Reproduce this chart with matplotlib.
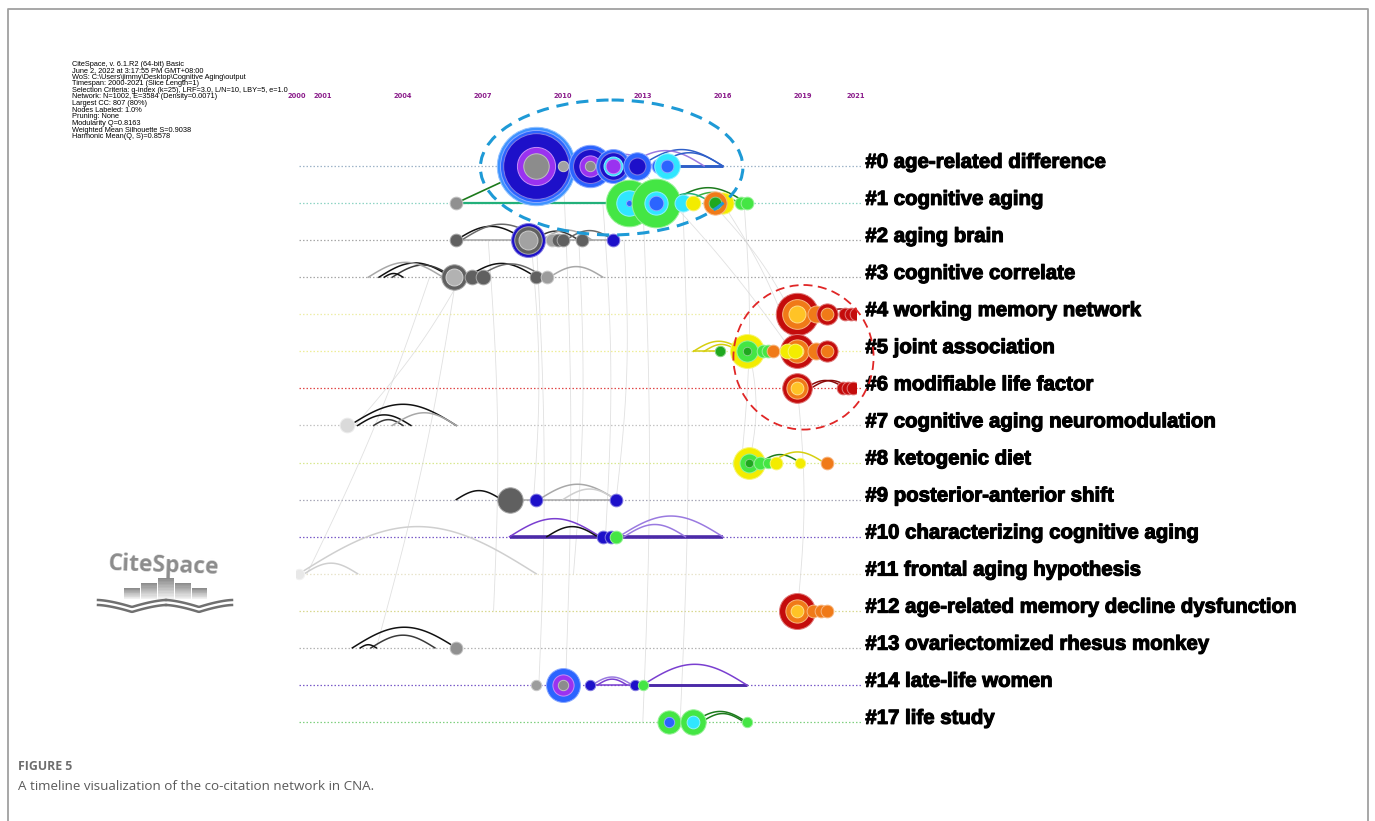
import numpy as np
import matplotlib
matplotlib.use("Agg")
import matplotlib.pyplot as plt
from matplotlib.patches import Ellipse
from matplotlib import patheffects as pe
from matplotlib.colors import to_rgb

# ---------------- data ----------------
cluster_labels = [
    "#0 age-related difference",
    "#1 cognitive aging",
    "#2 aging brain",
    "#3 cognitive correlate",
    "#4 working memory network",
    "#5 joint association",
    "#6 modifiable life factor",
    "#7 cognitive aging neuromodulation",
    "#8 ketogenic diet",
    "#9 posterior-anterior shift",
    "#10 characterizing cognitive aging",
    "#11 frontal aging hypothesis",
    "#12 age-related memory decline dysfunction",
    "#13 ovariectomized rhesus monkey",
    "#14 late-life women",
    "#17 life study",
]
year_ticks = [2000, 2001, 2004, 2007, 2010, 2013, 2016, 2019, 2021]
run_info = [
    "CiteSpace, v. 6.1.R2 (64-bit) Basic",
    "June 2, 2022 at 3:17:55 PM GMT+08:00",
    "WoS: C:\\Users\\jimmy\\Desktop\\Cognitive Aging\\output",
    "Timespan: 2000-2021 (Slice Length=1)",
    "Selection Criteria: g-index (k=25), LRF=3.0, L/N=10, LBY=5, e=1.0",
    "Network: N=1002, E=3584 (Density=0.0071)",
    "Largest CC: 807 (80%)",
    "Nodes Labeled: 1.0%",
    "Pruning: None",
    "Modularity Q=0.8163",
    "Weighted Mean Silhouette S=0.9038",
    "Harmonic Mean(Q, S)=0.8578",
]

# references: timeline row, publication year, citations per citing year (inner ring first)
node_row = ([0] * 7 + [1] * 9 + [2] * 7 + [3] * 5 + [4] * 6 + [5] * 10 + [6] * 4 + [7]
            + [8] * 7 + [9] * 3 + [10] * 3 + [11] + [12] * 4 + [13] + [14] * 5 + [15] * 3)
node_year = [
    2009.0, 2010.0, 2011.0, 2011.9, 2012.8, 2013.6, 2013.9,
    2006.0, 2012.5, 2013.5, 2014.5, 2014.9, 2016.0, 2015.7, 2016.7, 2016.9,
    2006.0, 2008.7, 2009.6, 2009.8, 2010.0, 2010.7, 2011.9,
    2005.9, 2006.6, 2007.0, 2009.0, 2009.4,
    2018.8, 2019.5, 2019.9, 2020.6, 2020.8, 2021.0,
    2015.9, 2016.9, 2017.5, 2017.7, 2017.9, 2018.8, 2018.4, 2018.7, 2019.5, 2019.9,
    2018.8, 2020.5, 2020.7, 2020.9,
    2001.9,
    2016.6, 2017.0, 2017.4, 2017.7, 2018.0, 2018.9, 2019.9,
    2008.0, 2009.0, 2012.0,
    2011.5, 2011.8, 2012.0,
    2000.1,
    2018.8, 2019.4, 2019.7, 2019.9,
    2006.0,
    2009.0, 2010.0, 2011.0, 2012.7, 2013.0,
    2014.0, 2014.9, 2016.9,
]
node_cites = [
    [(2010, 36), (2011, 45), (2012, 159), (2013, 49), (2014, 53)],
    [(2009, 6)],
    [(2010, 6), (2011, 19), (2012, 39), (2013, 36)],
    [(2011, 12), (2015, 8), (2012, 22), (2013, 22)],
    [(2012, 16), (2013, 26)],
    [(2013, 12)],
    [(2013, 9), (2015, 27)],

    [(2006, 9)],
    [(2013, 2), (2015, 34), (2017, 85)],
    [(2013, 12), (2015, 18), (2017, 102)],
    [(2015, 16)],
    [(2018, 12)],
    [(2018, 25)],
    [(2016, 9), (2020, 21)],
    [(2017, 9)],
    [(2017, 9)],

    [(2007, 9)],
    [(2009, 20), (2007, 22), (2012, 22)],
    [(2009, 9)],
    [(2007, 9)],
    [(2007, 9)],
    [(2007, 9)],
    [(2012, 9)],

    [(2004, 16), (2007, 20)],
    [(2007, 12)],
    [(2007, 12)],
    [(2007, 9)],
    [(2008, 9)],

    [(2019, 16), (2020, 33), (2021, 51)],
    [(2020, 16)],
    [(2020, 9), (2021, 16)],
    [(2021, 9)],
    [(2021, 9)],
    [(2021, 9)],

    [(2016, 6)],
    [(2016, 4), (2017, 21), (2018, 39)],
    [(2017, 9)],
    [(2017, 9)],
    [(2020, 9)],
    [(2019, 9), (2020, 21), (2021, 34)],
    [(2018, 12)],
    [(2018, 12)],
    [(2020, 16)],
    [(2020, 9), (2021, 16)],

    [(2019, 9), (2020, 16), (2021, 24)],
    [(2021, 9)],
    [(2021, 9)],
    [(2021, 9)],

    [(2001, 12)],

    [(2017, 9)],
    [(2016, 4), (2017, 16), (2018, 36)],
    [(2017, 9)],
    [(2017, 6)],
    [(2018, 9)],
    [(2018, 6)],
    [(2020, 9)],

    [(2007, 36)],
    [(2012, 9)],
    [(2012, 9)],

    [(2012, 9)],
    [(2012, 9)],
    [(2017, 9)],

    [(2000, 6)],

    [(2019, 9), (2020, 21), (2021, 42)],
    [(2020, 9)],
    [(2020, 9)],
    [(2020, 9)],

    [(2006, 9)],

    [(2008, 6)],
    [(2010, 6), (2011, 19), (2013, 39)],
    [(2012, 6)],
    [(2012, 6)],
    [(2017, 6)],

    [(2013, 6), (2017, 24)],
    [(2015, 9), (2017, 27)],
    [(2017, 6)],
]

# co-citation arcs inside a cluster: row, from-year, to-year, year of the link
arc_row = [0, 0, 0, 0,
           1, 1, 1,
           2, 2, 2, 2, 2,
           3, 3, 3, 3, 3, 3, 3,
           4, 5, 5, 6, 6,
           7, 7, 7, 7,
           8, 8,
           9, 9, 9,
           10, 10, 10, 10,
           11, 11,
           12,
           13, 13, 13,
           14, 14, 14,
           15, 15]
arc_from = [2012.9, 2012.4, 2013.5, 2011.2,
            2014.0, 2014.6, 2013.8,
            2006.0, 2006.2, 2008.9, 2009.2, 2010.1,
            2003.1, 2003.6, 2003.3, 2006.4, 2006.8, 2009.5, 2002.7,
            2019.9, 2014.9, 2015.3, 2019.1, 2019.3,
            2002.0, 2002.3, 2002.9, 2003.6,
            2017.4, 2017.8,
            2006.0, 2009.1, 2010.0,
            2008.0, 2009.4, 2012.1, 2012.3,
            2000.1, 2000.3,
            2019.3,
            2002.1, 2002.8, 2002.4,
            2011.1, 2011.3, 2013.0,
            2014.9, 2015.2]
arc_to = [2016.0, 2015.3, 2016.0, 2013.4,
          2016.9, 2016.6, 2015.6,
          2008.6, 2009.2, 2010.6, 2011.1, 2011.9,
          2005.8, 2005.9, 2004.0, 2009.0, 2009.3, 2011.5, 2005.5,
          2020.9, 2016.8, 2016.6, 2020.6, 2020.8,
          2006.0, 2004.3, 2004.0, 2006.0,
          2018.9, 2019.8,
          2007.7, 2012.0, 2012.0,
          2011.4, 2011.3, 2016.0, 2014.6,
          2009.0, 2002.3,
          2019.9,
          2006.0, 2005.2, 2003.0,
          2012.6, 2012.4, 2016.9,
          2016.9, 2016.8]
arc_year = [2014, 2013, 2014, 2013,
            2016, 2017, 2015,
            2002, 2006, 2004, 2008, 2006,
            2002, 2004, 2002, 2002, 2006, 2008, 2008,
            2021, 2018, 2018, 2021, 2021,
            2002, 2002, 2004, 2008,
            2016, 2018,
            2002, 2008, 2010,
            2011, 2002, 2013, 2013,
            2010, 2010,
            2020,
            2002, 2004, 2002,
            2013, 2011, 2011,
            2016, 2016]

# straight co-citation spans along a row: row, from-year, to-year, link year, weight
span_row = [0, 1, 2, 5, 9, 10, 14, 14]
span_from = [2014.2, 2006.0, 2006.0, 2014.9, 2008.0, 2008.0, 2011.0, 2013.0]
span_to = [2016.0, 2012.1, 2011.9, 2016.0, 2012.0, 2016.0, 2013.0, 2016.9]
span_year = [2014, 2015, 2008, 2018, 2008, 2012, 2011, 2012]
span_weight = [3, 2, 1, 1, 1, 4, 1, 3]

# links between clusters: (year, row) -> (year, row), link year
bridge_from = [(2006.0, 1)]
bridge_to = [(2009.0, 0)]
bridge_year = [2016]

# faint background links between clusters
faint_from = [(2009.0, 2), (2010.0, 0), (2006.2, 3), (2006.0, 3), (2011.5, 1), (2012.3, 2),
              (2013.0, 1), (2014.5, 1), (2015.6, 1), (2016.0, 1), (2017.0, 5), (2018.8, 6),
              (2016.8, 1), (2005.0, 3), (2008.8, 2), (2012.8, 0), (2007.2, 2), (2010.6, 2)]
faint_to = [(2009.1, 14), (2010.1, 14), (2002.2, 7), (2003.0, 13), (2011.6, 10), (2012.0, 9),
            (2013.0, 15), (2014.4, 15), (2018.6, 4), (2018.7, 5), (2017.0, 8), (2018.8, 12),
            (2016.7, 8), (2000.4, 11), (2008.9, 9), (2018.6, 5), (2007.4, 12), (2010.4, 11)]

# ---------------- styles ----------------
NODE_COLORS = {2000: '#e8e8e8', 2001: '#dadada', 2002: '#cccccc', 2003: '#bebebe',
               2004: '#b2b2b2', 2005: '#a6a6a6', 2006: '#909090', 2007: '#606060',
               2008: '#9c9c9c', 2009: '#a2a2a2', 2010: '#8c8c8c', 2011: '#9a32f0',
               2012: '#1d10c9', 2013: '#2b64ff', 2014: '#3d92ff', 2015: '#30e6ff',
               2016: '#1fa81f', 2017: '#44e644', 2018: '#f3ec00', 2019: '#ffc326',
               2020: '#f07a18', 2021: '#c40c0c'}
LINK_COLORS = {2002: '#111111', 2004: '#3a3a3a', 2006: '#6a6a6a', 2008: '#a8a8a8',
               2010: '#cfcfcf', 2011: '#7a3fd0', 2012: '#4b2aa8', 2013: '#9a7ae0',
               2014: '#2f5fc8', 2015: '#22b07a', 2016: '#1c7a1c', 2017: '#3faf3f',
               2018: '#d6cf10', 2020: '#d05a10', 2021: '#8c0a0a'}
ROW_COLORS = ['#9fb4c8', '#8fd4c4', '#a8a8a8', '#a8a8a8', '#eeeea8', '#eeee98',
              '#e04848', '#c4c4c4', '#d8e890', '#a8a8b8', '#7a5cc8', '#e8e4cc',
              '#d8d890', '#b4b4b4', '#7a5cc8', '#80d080']

W, H = 1375, 821
X2000, PX_PER_YEAR = 296.35, 26.65
Y_ROW0, PX_PER_ROW = 166.0, 37.07
PX_PER_UNIT = 2.12      # node radius in px per sqrt(citation)


def lighter(c, f=0.45):
    r, g, b = to_rgb(c)
    return (r + (1 - r) * f, g + (1 - g) * f, b + (1 - b) * f)


fig = plt.figure(figsize=(W / 100, H / 100), dpi=100)
fig.patch.set_facecolor('white')

# pixel-space layer for the page furniture
deco = fig.add_axes([0, 0, 1, 1], zorder=0)
deco.set_xlim(0, W)
deco.set_ylim(H, 0)
deco.axis('off')

# timeline axes: x = year, y = cluster row
ytop, ybot = -1.9, 15.5
ax = fig.add_axes([X2000 / W,
                   1 - (Y_ROW0 + ybot * PX_PER_ROW) / H,
                   21 * PX_PER_YEAR / W,
                   (ybot - ytop) * PX_PER_ROW / H], zorder=2)
ax.set_xlim(2000, 2021)
ax.set_ylim(ybot, ytop)
ax.axis('off')
ax.patch.set_alpha(0)

rows = np.arange(len(cluster_labels))

# row guide lines
for r in rows:
    ax.plot([2000.1, 2021.2], [r, r], color=ROW_COLORS[r], lw=0.9,
            ls=(0, (1.2, 1.6)), clip_on=False, zorder=1)

# faint links
for (x0, r0), (x1, r1) in zip(faint_from, faint_to):
    t = np.linspace(0, 1, 60)
    xs = x0 + (x1 - x0) * t + 0.25 * np.sin(np.pi * t)
    ys = r0 + (r1 - r0) * t
    ax.plot(xs, ys, color='#d4d4d4', lw=0.6, alpha=0.7, zorder=1.2)

# spans
for r, a, b, yr, wgt in zip(span_row, span_from, span_to, span_year, span_weight):
    ax.plot([a, b], [r, r], color=LINK_COLORS[yr], lw=0.6 + 0.5 * wgt,
            solid_capstyle='butt', zorder=2)

# arcs
for r, a, b, yr in zip(arc_row, arc_from, arc_to, arc_year):
    t = np.linspace(0, 1, 80)
    h = 5.3 * abs(b - a) * PX_PER_YEAR / 26.65 / PX_PER_ROW
    ax.plot(a + (b - a) * t, r - h * np.sin(np.pi * t), color=LINK_COLORS[yr],
            lw=1.1, zorder=2.2)

# bridges
for (x0, r0), (x1, r1), yr in zip(bridge_from, bridge_to, bridge_year):
    ax.plot([x0, x1], [r0, r1], color=LINK_COLORS[yr], lw=1.2, zorder=2.3)

# nodes (tree rings)
z = 3.0
for r, yr, cites in zip(node_row, node_year, node_cites):
    cum = np.cumsum([c for _, c in cites])
    for k in range(len(cites) - 1, -1, -1):
        rad = PX_PER_UNIT * np.sqrt(cum[k])
        s = (2 * rad * 0.72) ** 2
        col = NODE_COLORS[cites[k][0]]
        ax.scatter([yr], [r], s=s, color=col, edgecolors=[lighter(col)],
                   linewidths=0.7, zorder=z)
        z += 0.001

# highlighted groups
ax.add_patch(Ellipse((2011.83, 0.04), 9.85, 3.64, fill=False, ec='#1e9ad6', lw=2.2,
                     ls=(0, (4, 2.6)), clip_on=False, zorder=6))
ax.add_patch(Ellipse((2019.03, 5.16), 5.26, 3.90, fill=False, ec='#e02626', lw=1.3,
                     ls=(0, (5, 3)), clip_on=False, zorder=6))

# year labels
for y in year_ticks:
    ax.text(y, ytop + 0.02, str(y), color='#8b1c8b', fontsize=4.8, fontweight='bold',
            ha='center', va='center', clip_on=False)

# cluster labels
stroke = [pe.withStroke(linewidth=0.8, foreground='black')]
for r, lab in zip(rows, cluster_labels):
    ax.text(2021.35, r - 0.1, lab, fontsize=14.7, fontweight='bold',
            family='Liberation Sans', color='black', ha='left', va='center',
            clip_on=False, path_effects=stroke)

# run summary
for i, line in enumerate(run_info):
    deco.text(72, 64 + i * 6.6, line, fontsize=5.3, family='Liberation Sans',
              color='black', ha='left', va='center')

# frame
deco.plot([8, 8, 1368, 1368], [H, 9, 9, H], color='#a0a0a0', lw=1.3)

# logo
deco.text(164, 566, "CiteSpace", fontsize=16.5, fontweight='bold', family='Open Sans',
          color='#8c8c8c', ha='center', va='center', rotation=-2)
bars = [(124, 140, 588), (141, 157, 583), (158, 174, 578), (175, 191, 583), (192, 207, 588)]
for x0, x1, top in bars:
    n = 14
    edges = np.linspace(top, 599, n + 1)
    for j in range(n):
        g = 0.55 + 0.42 * j / n
        deco.fill_between([x0, x1], edges[j], edges[j + 1], color=(g, g, g), lw=0)
bx = np.linspace(0, 1, 50)
for off in (0, 5):
    ly = 600 + off + 7 * (1 - np.abs(2 * bx - 1)) ** 1.5
    deco.plot(98 + 68 * bx, ly, color='#707070', lw=1.8)
    deco.plot(232 - 66 * bx, ly, color='#707070', lw=1.8)

# caption
deco.text(18, 766, "FIGURE 5", fontsize=8.8, fontweight='bold', family='Open Sans',
          color='#6e6e6e', ha='left', va='center')
deco.text(18, 786, "A timeline visualization of the co-citation network in CNA.",
          fontsize=9.6, family='Open Sans', color='#5a5a5a', ha='left', va='center')

fig.savefig('out.png', dpi=100)
